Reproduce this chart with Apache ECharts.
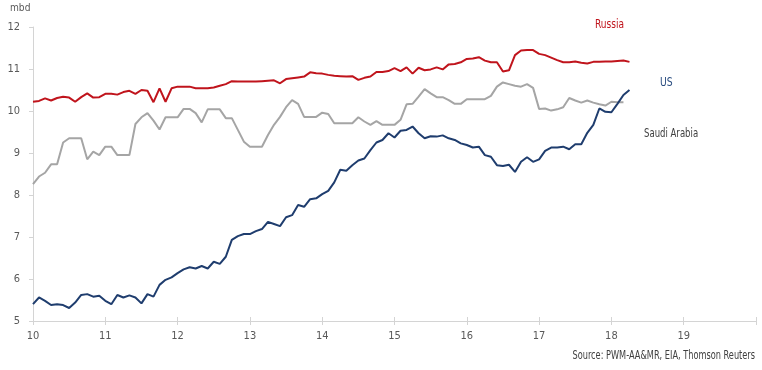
<!DOCTYPE html>
<html><head><meta charset="utf-8">
<script src="https://cdn.jsdelivr.net/npm/echarts@6/dist/echarts.min.js"></script>
<style>html,body{margin:0;padding:0;background:#fff}#c{width:762px;height:370px}</style>
</head><body><div id="c"></div>
<script>
// Monthly data, Jan 2010 onward (x axis in years: 10 = 2010)
const startYear = 10;
const yTicks = [5, 6, 7, 8, 9, 10, 11, 12];
const xTicks = [10, 11, 12, 13, 14, 15, 16, 17, 18, 19];

const russia = [
  10.22, 10.24, 10.30, 10.25, 10.31, 10.34, 10.32, 10.22, 10.33, 10.42, 10.32, 10.33,
  10.41, 10.41, 10.39, 10.45, 10.48, 10.41, 10.50, 10.48, 10.21, 10.54, 10.22, 10.54,
  10.58, 10.58, 10.58, 10.54, 10.54, 10.54, 10.56, 10.60, 10.64, 10.71, 10.70, 10.70,
  10.70, 10.70, 10.71, 10.72, 10.73, 10.66, 10.76, 10.78, 10.80, 10.82, 10.92, 10.90,
  10.89, 10.86, 10.84, 10.83, 10.82, 10.83, 10.74, 10.79, 10.82, 10.93, 10.93, 10.95,
  11.02, 10.95, 11.04, 10.89, 11.03, 10.97, 10.99, 11.04, 10.99, 11.11, 11.12, 11.16,
  11.24, 11.25, 11.28, 11.20, 11.16, 11.16, 10.94, 10.97, 11.33, 11.44, 11.45, 11.45,
  11.36, 11.33, 11.27, 11.21, 11.16, 11.16, 11.18, 11.15, 11.13, 11.17, 11.17, 11.18,
  11.18, 11.19, 11.20, 11.17
];
const saudi = [
  8.26, 8.44, 8.53, 8.73, 8.73, 9.25, 9.35, 9.35, 9.35, 8.85, 9.03, 8.95,
  9.15, 9.15, 8.95, 8.95, 8.95, 9.69, 9.85, 9.95, 9.77, 9.56, 9.85, 9.85,
  9.85, 10.05, 10.05, 9.95, 9.73, 10.04, 10.04, 10.04, 9.83, 9.83, 9.55, 9.27,
  9.15, 9.15, 9.15, 9.43, 9.67, 9.86, 10.09, 10.26, 10.17, 9.86, 9.86, 9.86,
  9.96, 9.93, 9.71, 9.71, 9.71, 9.71, 9.85, 9.75, 9.67, 9.76, 9.67, 9.67,
  9.67, 9.79, 10.16, 10.17, 10.34, 10.52, 10.42, 10.33, 10.33, 10.26, 10.17, 10.17,
  10.28, 10.28, 10.28, 10.28, 10.36, 10.58, 10.68, 10.64, 10.60, 10.58, 10.64, 10.55,
  10.05, 10.06, 10.01, 10.04, 10.09, 10.31, 10.25, 10.20, 10.25, 10.20, 10.16, 10.13,
  10.22, 10.21, 10.21
];
const us = [
  5.40, 5.56, 5.48, 5.38, 5.40, 5.38, 5.31, 5.44, 5.62, 5.64, 5.58, 5.60,
  5.48, 5.40, 5.62, 5.56, 5.61, 5.56, 5.42, 5.64, 5.58, 5.86, 5.98, 6.04,
  6.14, 6.23, 6.28, 6.25, 6.31, 6.25, 6.41, 6.36, 6.53, 6.93, 7.02, 7.07,
  7.07, 7.14, 7.19, 7.36, 7.31, 7.26, 7.47, 7.52, 7.76, 7.72, 7.90, 7.92,
  8.02, 8.10, 8.30, 8.60, 8.58, 8.71, 8.82, 8.87, 9.07, 9.25, 9.31, 9.47,
  9.37, 9.53, 9.55, 9.63, 9.47, 9.35, 9.40, 9.39, 9.42, 9.35, 9.31, 9.23,
  9.19, 9.13, 9.15, 8.95, 8.91, 8.71, 8.69, 8.72, 8.55, 8.79, 8.90, 8.79,
  8.85, 9.05, 9.13, 9.13, 9.15, 9.09, 9.21, 9.21, 9.48, 9.67, 10.06, 9.98,
  9.97, 10.17, 10.38, 10.50
];

const toPairs = arr => arr.map((v, i) => [startYear + i / 12, v]);
const FONT = "'Liberation Sans Narrow','DejaVu Sans Condensed','Roboto',sans-serif";
const AX = '#d4d4d4';
const TXT = '#595959';

const chart = echarts.init(document.getElementById('c'), null, {renderer: 'canvas'});
chart.setOption({
  animation: false,
  backgroundColor: '#fff',
  textStyle: {fontFamily: FONT},
  grid: {left: 33, right: 6, top: 27, bottom: 49, containLabel: false},
  xAxis: [{
    type: 'value', min: 10, max: 20, interval: 1, position: 'bottom',
    axisLine: {show: true, lineStyle: {color: AX, width: 1}},
    axisTick: {show: true, length: 4, lineStyle: {color: AX}},
    axisLabel: {color: TXT, fontSize: 11, fontFamily: FONT, margin: 10,
      formatter: v => xTicks.indexOf(v) >= 0 ? String(v) : ''},
    splitLine: {show: false}
  }, {
    type: 'value', min: 10, max: 20, interval: 1, position: 'bottom',
    axisLine: {show: false},
    axisTick: {show: true, inside: true, length: 4, lineStyle: {color: AX}},
    axisLabel: {show: false},
    splitLine: {show: false}
  }],
  yAxis: {
    type: 'value', min: yTicks[0], max: yTicks[yTicks.length - 1], interval: 1,
    axisLine: {show: true, lineStyle: {color: AX, width: 1}},
    axisTick: {show: true, length: 4, lineStyle: {color: AX}},
    axisLabel: {color: TXT, fontSize: 11, fontFamily: FONT, margin: 13},
    splitLine: {show: false}
  },
  graphic: [
    {type: 'text', x: 10, y: 3, scaleX: 0.92, style: {text: 'mbd', fill: TXT, font: '11px ' + FONT}},
    {type: 'text', x: 595, y: 19, scaleX: 0.84, style: {text: 'Russia', fill: '#c0141c', font: '12px ' + FONT}},
    {type: 'text', x: 660, y: 77, scaleX: 0.86, style: {text: 'US', fill: '#2a4d80', font: '12px ' + FONT}},
    {type: 'text', x: 644, y: 128, scaleX: 0.79, style: {text: 'Saudi Arabia', fill: '#404040', font: '12px ' + FONT}},
    {type: 'text', x: 755, y: 350, scaleX: 0.76,
      style: {text: 'Source: PWM-AA&MR, EIA, Thomson Reuters', align: 'right', fill: '#404040', font: '12px ' + FONT}}
  ],
  series: [
    {name: 'Saudi Arabia', type: 'line', data: toPairs(saudi), showSymbol: false,
      lineStyle: {color: '#a5a5a5', width: 2}, itemStyle: {color: '#a5a5a5'}},
    {name: 'Russia', type: 'line', data: toPairs(russia), showSymbol: false,
      lineStyle: {color: '#c0141c', width: 2}, itemStyle: {color: '#c0141c'}},
    {name: 'US', type: 'line', data: toPairs(us), showSymbol: false,
      lineStyle: {color: '#1f3d6e', width: 2}, itemStyle: {color: '#1f3d6e'}}
  ]
});
</script></body></html>
